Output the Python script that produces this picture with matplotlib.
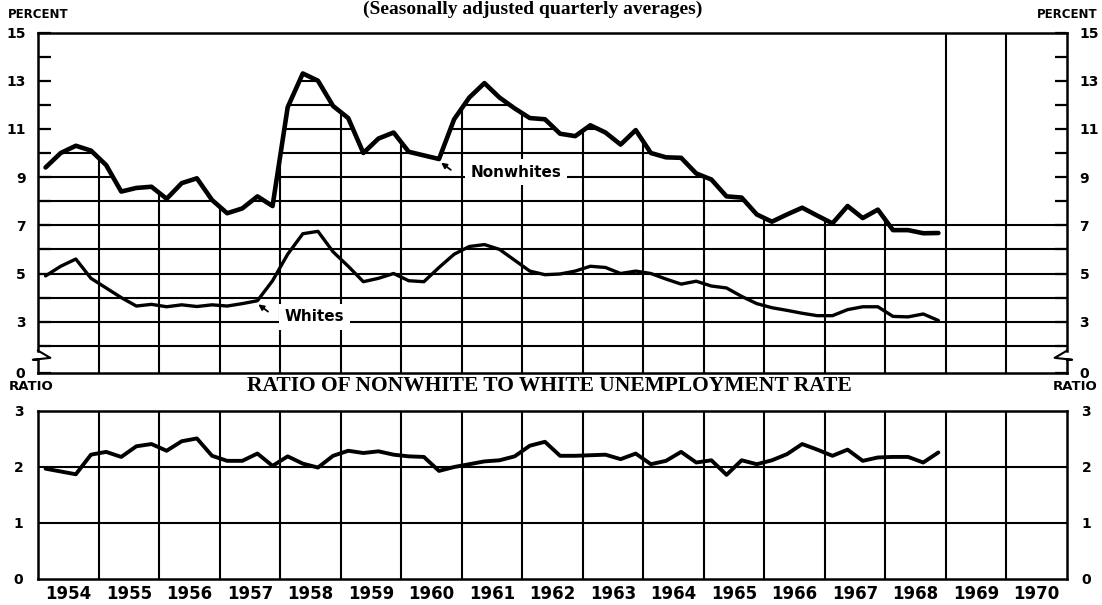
import numpy as np
import matplotlib
matplotlib.use('Agg')
import matplotlib.pyplot as plt
from matplotlib.patches import Polygon
from matplotlib.lines import Line2D
from matplotlib.transforms import blended_transform_factory

# ---------------- data (quarterly, 1954 Q1 .. 1968 Q4) ----------------
first_year = 1954
nonwhite = [9.4, 10.0, 10.3, 10.1,
            9.5, 8.4, 8.55, 8.6,
            8.1, 8.75, 8.95, 8.05,
            7.5, 7.7, 8.2, 7.8,
            11.9, 13.3, 13.0, 11.95,
            11.45, 10.0, 10.6, 10.85,
            10.05, 9.9, 9.75, 11.4,
            12.3, 12.9, 12.3, 11.85,
            11.45, 11.4, 10.8, 10.7,
            11.15, 10.85, 10.35, 10.95,
            10.0, 9.82, 9.8, 9.15,
            8.9, 8.2, 8.15, 7.45,
            7.15, 7.45, 7.73, 7.4,
            7.08, 7.8, 7.3, 7.65,
            6.8, 6.8, 6.67, 6.68]
whites = [4.9, 5.3, 5.6, 4.8,
          4.4, 4.0, 3.65, 3.72,
          3.62, 3.7, 3.63, 3.7,
          3.65, 3.75, 3.87, 4.7,
          5.8, 6.65, 6.75, 5.9,
          5.3, 4.66, 4.8, 5.0,
          4.7, 4.66, 5.25, 5.8,
          6.12, 6.2, 6.0, 5.55,
          5.1, 4.95, 4.98, 5.1,
          5.3, 5.25, 5.0, 5.1,
          5.0, 4.77, 4.56, 4.68,
          4.48, 4.4, 4.05, 3.75,
          3.58, 3.47, 3.35, 3.25,
          3.25, 3.5, 3.62, 3.62,
          3.22, 3.2, 3.32, 3.05]
ratio = [1.97, 1.92, 1.87, 2.22,
         2.27, 2.18, 2.37, 2.41,
         2.29, 2.46, 2.51, 2.2,
         2.11, 2.11, 2.24, 2.02,
         2.19, 2.06, 1.99, 2.2,
         2.29, 2.25, 2.28, 2.22,
         2.19, 2.18, 1.93, 2.0,
         2.05, 2.1, 2.12, 2.19,
         2.38, 2.45, 2.2, 2.2,
         2.21, 2.22, 2.14, 2.24,
         2.05, 2.11, 2.27, 2.08,
         2.12, 1.86, 2.12, 2.05,
         2.12, 2.23, 2.41, 2.31,
         2.2, 2.31, 2.11, 2.17,
         2.18, 2.18, 2.08, 2.26]
years = list(range(1954, 1971))          # year labels 1954 .. 1970
pct_ticks = [3, 5, 7, 9, 11, 13, 15]
ratio_ticks = [0, 1, 2, 3]

# quarter mid-points
t = first_year + 0.125 + 0.25 * np.arange(len(nonwhite))

# ---------------- figure ----------------
W, H = 1102, 605
fig = plt.figure(figsize=(W / 100, H / 100), dpi=100)
fig.patch.set_facecolor('white')


def fx(px):
    return px / W


def fy(py):
    return 1 - py / H


SANS = ['DejaVu Sans']
SERIF = ['Liberation Serif', 'DejaVu Serif']
LW_GRID = 1.5
LW_SPINE = 1.8

X0, X1 = years[0], years[-1] + 1
Y0 = 15 - (373 - 32.5) / 24.1   # bottom of the broken axis

ax1 = fig.add_axes([fx(38), fy(373), fx(1067) - fx(38), fy(32.5) - fy(373)])
ax2 = fig.add_axes([fx(38), fy(579), fx(1067) - fx(38), fy(411) - fy(579)])

# ---------------- top panel ----------------
ax1.set_xlim(X0, X1)
ax1.set_ylim(Y0, 15)

ceil = np.array(nonwhite, float)
late = t >= 1968
ceil[late] = np.maximum(ceil[late], 7.08)
verts = [(X0, Y0), (X0, ceil[0])] + list(zip(t, ceil)) + [(X1, 7.08), (X1, Y0)]
clip = Polygon(verts, closed=True, transform=ax1.transData,
               facecolor='none', edgecolor='none')
ax1.add_patch(clip)

hl = ax1.hlines(np.arange(2, 15), X0, X1, colors='black', lw=LW_GRID, zorder=1)
hl.set_clip_path(clip)
vl = ax1.vlines([y for y in years[1:] if y <= 1968], Y0, 15, colors='black',
                lw=LW_GRID, zorder=1)
vl.set_clip_path(clip)
ax1.vlines([y for y in years[1:] if y > 1968], Y0, 15, colors='black',
           lw=LW_GRID, zorder=1)

ax1.plot(t, nonwhite, color='black', lw=3.3, zorder=4, solid_joinstyle='round',
         solid_capstyle='round')
ax1.plot(t, whites, color='black', lw=2.4, zorder=4, solid_joinstyle='round',
         solid_capstyle='round')

lab_kw = dict(fontsize=11, fontweight='bold', family=SANS, ha='center',
              va='center', zorder=5,
              bbox=dict(boxstyle='square,pad=0.35', fc='white', ec='none'))
ax1.text(1958.57, 3.2, 'Whites', **lab_kw)
ax1.text(1961.9, 9.2, 'Nonwhites', **lab_kw)
arr = dict(arrowstyle='-|>', lw=1.3, color='black', mutation_scale=8,
           shrinkA=0, shrinkB=0)
ax1.annotate('', xy=(1957.64, 3.72), xytext=(1957.8, 3.42), arrowprops=arr,
             zorder=6)
ax1.annotate('', xy=(1960.66, 9.6), xytext=(1960.82, 9.3), arrowprops=arr,
             zorder=6)

for s in ['left', 'right']:
    ax1.spines[s].set_visible(False)
for s in ['top', 'bottom']:
    ax1.spines[s].set_linewidth(LW_SPINE)

# broken-axis spines
bt = blended_transform_factory(ax1.transAxes, ax1.transData)
for xa, d in [(0, 1), (1, -1)]:
    ax1.add_line(Line2D([xa, xa], [15, 1.8], transform=bt, color='black',
                        lw=LW_SPINE, clip_on=False, zorder=6))
    ax1.add_line(Line2D([xa, xa + d * 0.012, xa - d * 0.005, xa],
                        [1.8, 1.5, 1.42, 1.42], transform=bt, color='black',
                        lw=1.5, clip_on=False, zorder=6))
    ax1.add_line(Line2D([xa, xa], [1.42, Y0], transform=bt, color='black',
                        lw=LW_SPINE, clip_on=False, zorder=6))

ax1.set_xticks([])
ax1.set_yticks([Y0] + pct_ticks)
ax1.set_yticklabels(['0'] + [str(v) for v in pct_ticks])
ax1.set_yticks(np.arange(2, 15, 2), minor=True)
ax1.tick_params(axis='y', which='both', direction='in', left=True, right=True,
                labelleft=True, labelright=True, length=9, width=1.6)
ax1.tick_params(axis='y', which='major', pad=9)
for lb in ax1.get_yticklabels():
    lb.set_fontweight('bold')
    lb.set_fontsize(10)
    lb.set_family(SANS)

# ---------------- bottom panel ----------------
ax2.set_xlim(X0, X1)
ax2.set_ylim(0, 3)
ax2.hlines([1, 2], X0, X1, colors='black', lw=LW_GRID, zorder=1)
ax2.vlines(years[1:], 0, 3, colors='black', lw=LW_GRID, zorder=1)
ax2.plot(t, ratio, color='black', lw=2.8, zorder=4, solid_joinstyle='round',
         solid_capstyle='round')
for s in ax2.spines.values():
    s.set_linewidth(LW_SPINE)
ax2.set_yticks(ratio_ticks)
ax2.set_yticklabels([str(v) for v in ratio_ticks])
ax2.tick_params(axis='y', which='both', left=False, right=False,
                labelleft=True, labelright=True, pad=7)
ax2.set_xticks(np.array(years) + 0.5)
ax2.set_xticklabels([str(y) for y in years])
ax2.tick_params(axis='x', length=0, pad=4)
for lb in ax2.get_yticklabels() + ax2.get_xticklabels():
    lb.set_fontweight('bold')
    lb.set_family(SANS)
for lb in ax2.get_yticklabels():
    lb.set_fontsize(10)
for lb in ax2.get_xticklabels():
    lb.set_fontsize(12)

# ---------------- captions ----------------
fig.text(fx(533), fy(1), '(Seasonally adjusted quarterly averages)',
         ha='center', va='top', fontsize=14, fontweight='bold', family=SERIF)
fig.text(fx(8), fy(15), 'PERCENT', ha='left', va='center', fontsize=8.5,
         fontweight='bold', family=SANS)
fig.text(fx(1098), fy(15), 'PERCENT', ha='right', va='center', fontsize=8.5,
         fontweight='bold', family=SANS)
fig.text(fx(9), fy(386), 'RATIO', ha='left', va='center', fontsize=9.5,
         fontweight='bold', family=SANS)
fig.text(fx(1098), fy(386), 'RATIO', ha='right', va='center', fontsize=9.5,
         fontweight='bold', family=SANS)
fig.text(fx(549), fy(386), 'RATIO OF NONWHITE TO WHITE UNEMPLOYMENT RATE',
         ha='center', va='center', fontsize=15.5, fontweight='bold', family=SERIF)

fig.savefig('out.png', dpi=100, facecolor='white')
